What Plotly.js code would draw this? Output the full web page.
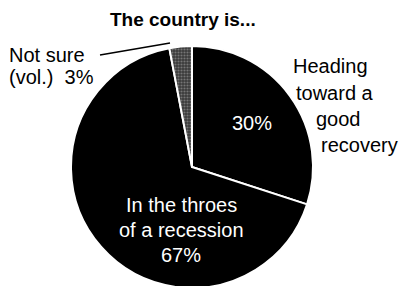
<!DOCTYPE html>
<html>
<head>
<meta charset="utf-8">
<script src="https://cdn.plot.ly/plotly-3.0.1.min.js"></script>
<style>
html,body{margin:0;padding:0;background:#fff;overflow:hidden;width:404px;height:286px;}
#chart{width:404px;height:288px;}
</style>
</head>
<body>
<div id="chart"></div>
<script>
// ---- data ----
const chartTitle = 'The country is...';
const categories = ['Heading toward a good recovery', 'In the throes of a recession', 'Not sure (vol.)'];
const values = [30, 67, 3];
const labelLines = [
  ['Heading', 'toward a', 'good', 'recovery'],
  ['In the throes', 'of a recession'],
  ['Not sure', '(vol.)']
];
const sliceColors = ['#000000', '#000000', '#4a4a4a'];

// ---- layout helpers (pixel -> paper) ----
const W = 404, H = 288, T = 46, B = 0;
const px = x => x / W;
const py = y => (H - B - y) / (H - T - B);
const FONT = 'Liberation Sans, Arial, sans-serif';

function ann(text, x, y, opts) {
  return Object.assign({
    text: text, xref: 'paper', yref: 'paper', x: px(x), y: py(y),
    xanchor: 'left', yanchor: 'middle', showarrow: false,
    font: {family: FONT, size: 20, color: '#000'}
  }, opts || {});
}

const pct = i => values[i] + '%';
const annotations = [
  ann('<b>' + chartTitle + '</b>', 183, 20, {xanchor: 'center', font: {family: FONT, size: 19, color: '#000'}}),
  // Heading toward a good recovery (outside right)
  ann(labelLines[0][0], 291, 66),
  ann(labelLines[0][1], 294, 93),
  ann(labelLines[0][2], 314, 119),
  ann(labelLines[0][3], 319, 145),
  ann(pct(0), 252, 123, {xanchor: 'center', font: {family: FONT, size: 20, color: '#fff'}}),
  // In the throes of a recession (inside)
  ann(labelLines[1][0], 181, 205, {xanchor: 'center', font: {family: FONT, size: 20, color: '#fff'}}),
  ann(labelLines[1][1], 181, 230, {xanchor: 'center', font: {family: FONT, size: 20, color: '#fff'}}),
  ann(pct(1), 181, 255, {xanchor: 'center', font: {family: FONT, size: 20, color: '#fff'}}),
  // Not sure (outside left)
  ann(labelLines[2][0], 7, 55),
  ann(labelLines[2][1] + '\u00a0 ' + pct(2), 7, 77)
];

const data = [{
  type: 'pie',
  labels: categories,
  values: values,
  sort: false,
  direction: 'clockwise',
  rotation: 0,
  textinfo: 'none',
  hoverinfo: 'none',
  showlegend: false,
  domain: {x: [0, 384 / 404], y: [0, 1]},
  marker: {
    colors: sliceColors,
    line: {color: '#ffffff', width: 2},
    pattern: {shape: ['', '', '.'], fgcolor: '#b0b0b0', bgcolor: '#3a3a3a', size: 3, solidity: 0.4, fillmode: 'overlay'}
  }
}];

const layout = {
  width: W, height: H,
  margin: {l: 0, r: 0, t: T, b: B, pad: 0},
  paper_bgcolor: '#fff', plot_bgcolor: '#fff',
  showlegend: false,
  annotations: annotations,
  shapes: [{
    type: 'line', xref: 'paper', yref: 'paper',
    x0: px(100), y0: py(55), x1: px(170), y1: py(43),
    line: {color: '#000', width: 1.5}
  }]
};

Plotly.newPlot('chart', data, layout, {staticPlot: true, displayModeBar: false});
</script>
</body>
</html>
